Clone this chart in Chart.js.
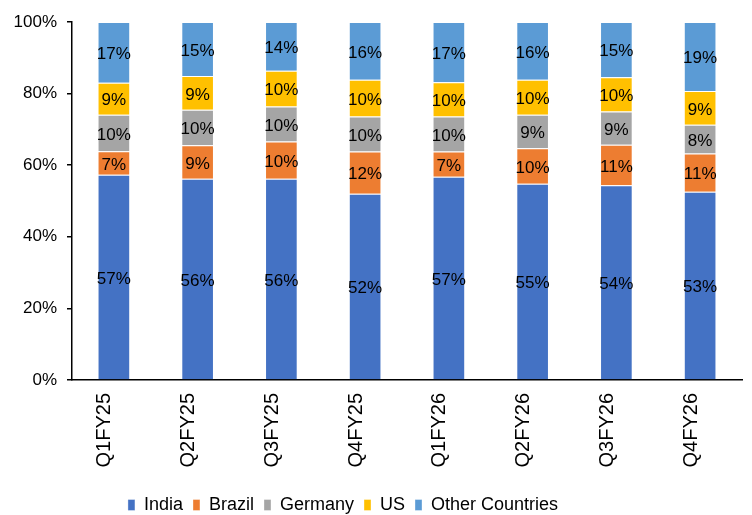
<!DOCTYPE html>
<html>
<head>
<meta charset="utf-8">
<script src="https://cdn.jsdelivr.net/npm/chart.js@4/dist/chart.umd.min.js"></script>
<style>
  html, body { margin: 0; padding: 0; background: #fff; }
  #wrap { width: 752px; height: 515px; }
</style>
</head>
<body>
<div id="wrap"><canvas id="chart" width="752" height="515"></canvas></div>
<script>
// quarters on the x axis
const quarters = ["Q1FY25", "Q2FY25", "Q3FY25", "Q4FY25", "Q1FY26", "Q2FY26", "Q3FY26", "Q4FY26"];

// share of each country (%)
const india   = [57.3, 56.2, 56.2, 52.0, 56.8, 54.8, 54.4, 52.6];
const brazil  = [6.6, 9.4, 10.4, 11.8, 7.0, 9.9, 11.3, 10.7];
const germany = [10.2, 9.9, 9.8, 9.8, 9.8, 9.4, 9.3, 8.0];
const us      = [8.9, 9.4, 10.0, 10.3, 9.6, 9.8, 9.6, 9.4];
const others  = [17.0, 15.1, 13.6, 16.1, 16.8, 16.1, 15.4, 19.3];

const yTicks = [0, 20, 40, 60, 80, 100];

const font = "'Liberation Sans', Arial, sans-serif";

// writes the rounded % in the middle of every segment
const segmentLabels = {
  id: "segmentLabels",
  afterDatasetsDraw(chart) {
    const ctx = chart.ctx;
    ctx.save();
    ctx.font = "17px " + font;
    ctx.fillStyle = "#000";
    ctx.textAlign = "center";
    ctx.textBaseline = "middle";
    chart.data.datasets.forEach((ds, i) => {
      chart.getDatasetMeta(i).data.forEach((bar, j) => {
        const mid = (bar.y + bar.base) / 2;
        ctx.fillText(Math.round(ds.data[j]) + "%", bar.x, mid + 2);
      });
    });
    ctx.restore();
  }
};

// the legend in the original sits a bit left of centre
const legendShift = {
  id: "legendShift",
  afterLayout(chart) {
    chart.legend.left -= 28;
    chart.legend.right -= 28;
  }
};

const makeSet = (label, data, color) => ({
  label: label,
  data: data,
  backgroundColor: color,
  borderColor: "rgba(255,255,255,0.35)",
  borderWidth: 1,
  barPercentage: 0.39,
  categoryPercentage: 1.0
});

new Chart(document.getElementById("chart"), {
  type: "bar",
  data: {
    labels: quarters,
    datasets: [
      makeSet("India", india, "#4472C4"),
      makeSet("Brazil", brazil, "#ED7D31"),
      makeSet("Germany", germany, "#A5A5A5"),
      makeSet("US", us, "#FFC000"),
      makeSet("Other Countries", others, "#5B9BD5")
    ]
  },
  options: {
    responsive: false,
    animation: false,
    layout: { padding: { top: 22, right: 10, left: 0, bottom: -9 } },
    plugins: {
      tooltip: { enabled: false },
      legend: {
        position: "bottom",
        labels: {
          boxWidth: 7,
          boxHeight: 11,
          padding: 10,
          color: "#000",
          font: { family: font, size: 18 }
        }
      }
    },
    scales: {
      x: {
        stacked: true,
        grid: { display: false },
        border: { color: "#000", width: 1.5 },
        ticks: {
          color: "#000",
          font: { family: font, size: 20 },
          minRotation: 90,
          maxRotation: 90,
          padding: 5,
          labelOffset: -9
        },
        afterFit: s => { s.height = 106; }
      },
      y: {
        stacked: true,
        min: 0,
        max: 100,
        afterBuildTicks: s => { s.ticks = yTicks.map(v => ({ value: v })); },
        grid: { drawOnChartArea: false, drawTicks: true, tickLength: 5, color: "#000", lineWidth: 1.5 },
        border: { color: "#000", width: 1.5 },
        ticks: {
          color: "#000",
          font: { family: font, size: 17 },
          padding: 10,
          callback: v => v + "%"
        },
        afterFit: s => { s.width = 72; }
      }
    }
  },
  plugins: [segmentLabels, legendShift]
});
</script>
</body>
</html>
